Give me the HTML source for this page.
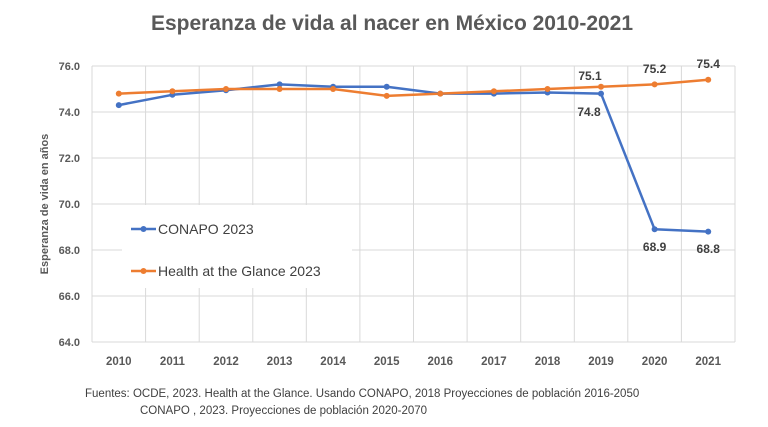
<!DOCTYPE html>
<html><head><meta charset="utf-8"><style>body{margin:0;background:#fff}svg{display:block}</style></head>
<body>
<svg width="768" height="427" xmlns="http://www.w3.org/2000/svg" font-family="Liberation Sans, sans-serif">
<rect width="768" height="427" fill="#fff"/>
<text x="392" y="30" text-anchor="middle" font-size="21" font-weight="bold" fill="#595959">Esperanza de vida al nacer en México 2010-2021</text>
<g stroke="#d9d9d9" stroke-width="1">
<line x1="92" y1="66" x2="735" y2="66"/><line x1="92" y1="112" x2="735" y2="112"/><line x1="92" y1="158" x2="735" y2="158"/><line x1="92" y1="204" x2="735" y2="204"/><line x1="92" y1="250" x2="735" y2="250"/><line x1="92" y1="296" x2="735" y2="296"/><line x1="92" y1="342" x2="735" y2="342"/>
<line x1="92" y1="66" x2="92" y2="342"/>
<line x1="145.6" y1="66" x2="145.6" y2="342"/><line x1="199.2" y1="66" x2="199.2" y2="342"/><line x1="252.8" y1="66" x2="252.8" y2="342"/><line x1="306.3" y1="66" x2="306.3" y2="342"/><line x1="359.9" y1="66" x2="359.9" y2="342"/><line x1="413.5" y1="66" x2="413.5" y2="342"/><line x1="467.1" y1="66" x2="467.1" y2="342"/><line x1="520.7" y1="66" x2="520.7" y2="342"/><line x1="574.3" y1="66" x2="574.3" y2="342"/><line x1="627.8" y1="66" x2="627.8" y2="342"/><line x1="681.4" y1="66" x2="681.4" y2="342"/><line x1="735" y1="66" x2="735" y2="342"/>
</g>
<rect x="122" y="205" width="230" height="83" fill="#fff"/>
<g font-size="11" font-weight="bold" fill="#595959" text-anchor="end">
<text x="80" y="70">76.0</text><text x="80" y="116">74.0</text><text x="80" y="162">72.0</text><text x="80" y="208">70.0</text><text x="80" y="254">68.0</text><text x="80" y="300">66.0</text><text x="80" y="346">64.0</text>
</g>
<g font-size="11.5" font-weight="bold" fill="#595959" text-anchor="middle">
<text x="118.8" y="365">2010</text><text x="172.4" y="365">2011</text><text x="226" y="365">2012</text><text x="279.6" y="365">2013</text><text x="333.1" y="365">2014</text><text x="386.7" y="365">2015</text><text x="440.3" y="365">2016</text><text x="493.9" y="365">2017</text><text x="547.5" y="365">2018</text><text x="601" y="365">2019</text><text x="654.6" y="365">2020</text><text x="708.2" y="365">2021</text>
</g>
<text transform="translate(48,204) rotate(-90)" text-anchor="middle" font-size="11" font-weight="bold" fill="#595959">Esperanza  de vida en años</text>
<g fill="none" stroke-width="2.5" stroke-linejoin="round">
<polyline stroke="#4472c4" points="118.8,105.1 172.4,94.8 226,90.2 279.6,84.4 333.1,86.7 386.7,86.7 440.3,93.6 493.9,93.6 547.5,92.5 601,93.6 654.6,229.3 708.2,231.6"/>
<polyline stroke="#ed7d31" points="118.8,93.6 172.4,91.3 226,89 279.6,89 333.1,89 386.7,95.9 440.3,93.6 493.9,91.3 547.5,89 601,86.7 654.6,84.4 708.2,79.8"/>
</g>
<g fill="#4472c4">
<circle cx="118.8" cy="105.1" r="3"/><circle cx="172.4" cy="94.8" r="3"/><circle cx="226" cy="90.2" r="3"/><circle cx="279.6" cy="84.4" r="3"/><circle cx="333.1" cy="86.7" r="3"/><circle cx="386.7" cy="86.7" r="3"/><circle cx="440.3" cy="93.6" r="3"/><circle cx="493.9" cy="93.6" r="3"/><circle cx="547.5" cy="92.5" r="3"/><circle cx="601" cy="93.6" r="3"/><circle cx="654.6" cy="229.3" r="3"/><circle cx="708.2" cy="231.6" r="3"/>
</g>
<g fill="#ed7d31">
<circle cx="118.8" cy="93.6" r="3"/><circle cx="172.4" cy="91.3" r="3"/><circle cx="226" cy="89" r="3"/><circle cx="279.6" cy="89" r="3"/><circle cx="333.1" cy="89" r="3"/><circle cx="386.7" cy="95.9" r="3"/><circle cx="440.3" cy="93.6" r="3"/><circle cx="493.9" cy="91.3" r="3"/><circle cx="547.5" cy="89" r="3"/><circle cx="601" cy="86.7" r="3"/><circle cx="654.6" cy="84.4" r="3"/><circle cx="708.2" cy="79.8" r="3"/>
</g>
<g font-size="12" font-weight="bold" fill="#404040" text-anchor="middle">
<text x="590" y="80">75.1</text><text x="654.6" y="73">75.2</text><text x="708.2" y="68">75.4</text>
<text x="589" y="116">74.8</text><text x="654.6" y="251">68.9</text><text x="708.2" y="253">68.8</text>
</g>
<line x1="131" y1="229" x2="156" y2="229" stroke="#4472c4" stroke-width="2.5"/><circle cx="143.5" cy="229" r="3" fill="#4472c4"/>
<text x="158" y="234" font-size="14" fill="#404040">CONAPO 2023</text>
<line x1="131" y1="271" x2="156" y2="271" stroke="#ed7d31" stroke-width="2.5"/><circle cx="143.5" cy="271" r="3" fill="#ed7d31"/>
<text x="158" y="276" font-size="14" fill="#404040">Health at the Glance  2023</text>
<text x="85" y="397" font-size="11.5" fill="#404040">Fuentes:  OCDE, 2023. Health at the Glance.  Usando CONAPO, 2018 Proyecciones de población 2016-2050</text>
<text x="140" y="414" font-size="11.5" fill="#404040">CONAPO , 2023. Proyecciones de población 2020-2070</text>
</svg>
</body></html>
